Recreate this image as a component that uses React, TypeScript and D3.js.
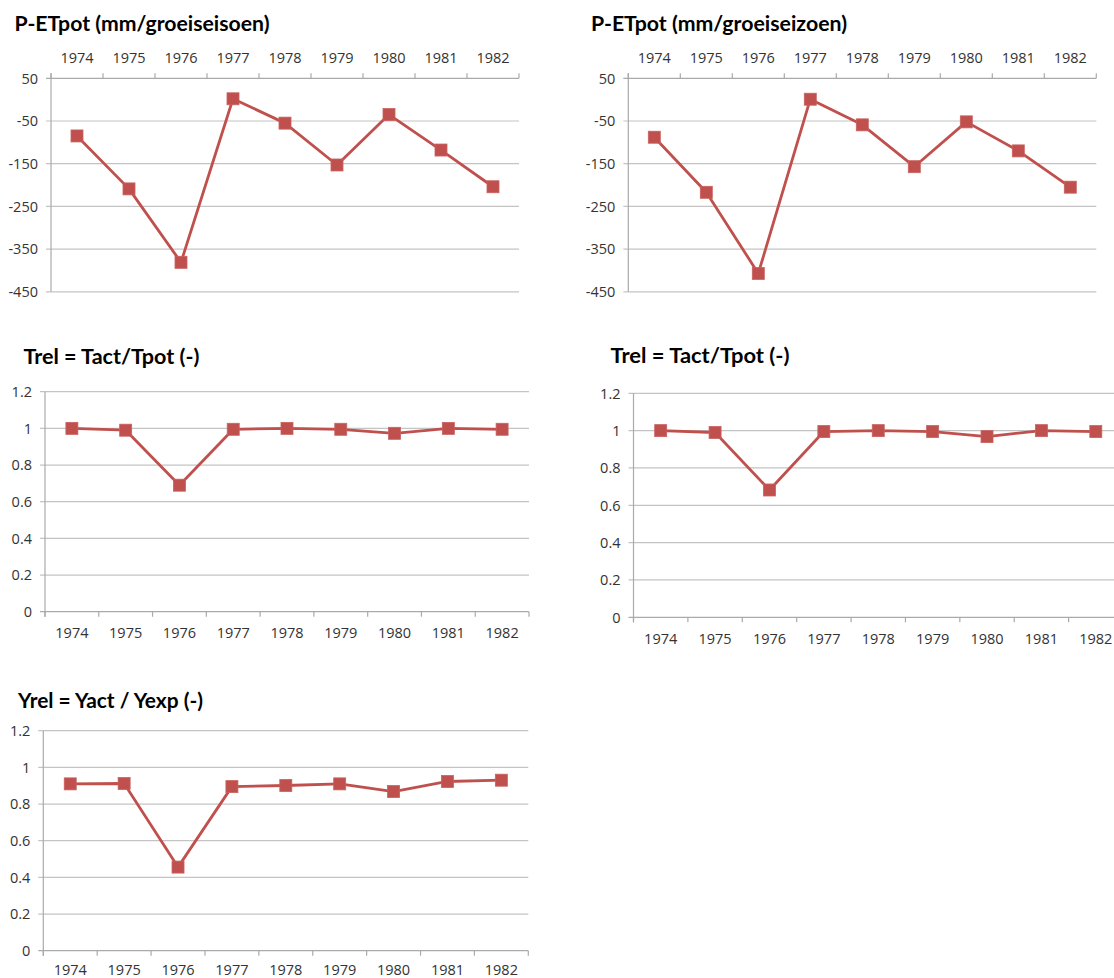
import React, { useEffect } from "react";
import * as d3 from "d3";

// categories and series
const YEARS = ["1974", "1975", "1976", "1977", "1978", "1979", "1980", "1981", "1982"];

const P_ET_LEFT = [-85, -209, -381, 2, -55, -153, -35, -118, -204];
const P_ET_RIGHT = [-88, -217, -407, 1, -59, -157, -52, -120, -205];
const TREL_LEFT = [1.0, 0.99, 0.69, 0.995, 1.0, 0.995, 0.973, 1.0, 0.995];
const TREL_RIGHT = [1.0, 0.99, 0.682, 0.995, 1.0, 0.995, 0.968, 1.0, 0.995];
const YREL = [0.91, 0.912, 0.456, 0.895, 0.901, 0.91, 0.868, 0.923, 0.93];

const P_ET_TICKS = [50, -50, -150, -250, -350, -450];
const REL_TICKS = [0, 0.2, 0.4, 0.6, 0.8, 1, 1.2];

const TITLES = [
  "P-ETpot (mm/groeiseisoen)",
  "P-ETpot (mm/groeiseizoen)",
  "Trel = Tact/Tpot (-)",
  "Trel = Tact/Tpot (-)",
  "Yrel = Yact / Yexp (-)",
];

const RED = "#c0504d";
const GRID = "#c4c4c4";
const AXIS = "#aaaaaa";
const TEXT = "#333333";
const TITLE_FONT = "Lato, 'Open Sans', sans-serif";
const TICK_FONT = "'Open Sans', Lato, sans-serif";

interface PanelProps {
  title: string;
  titleX: number;
  titleY: number;
  titleW: number;
  values: number[];
  ticks: number[];
  left: number;
  right: number;
  top: number;
  bottom: number;
  axisOnTop: boolean;
  labelOffset: number;
}

const Panel: React.FC<PanelProps> = ({
  title,
  titleX,
  titleY,
  titleW,
  values,
  ticks,
  left,
  right,
  top,
  bottom,
  axisOnTop,
  labelOffset,
}) => {
  const x = d3.scaleBand<string>().domain(YEARS).range([left, right]).padding(0);
  const y = d3
    .scaleLinear()
    .domain([d3.min(ticks) as number, d3.max(ticks) as number])
    .range([bottom, top]);

  const cx = (d: string) => (x(d) ?? 0) + x.bandwidth() / 2;
  const line = d3
    .line<number>()
    .x((_, i) => cx(YEARS[i]))
    .y((v) => y(v));

  const axisY = axisOnTop ? top : bottom;
  const tickDir = axisOnTop ? -5 : 5;
  const boundaries = YEARS.map((d) => x(d) ?? 0).concat([right]);
  const ms = 12;

  return (
    <g>
      <text
        x={titleX}
        y={titleY}
        fontFamily={TITLE_FONT}
        fontWeight="bold"
        fontSize={20}
        fill="#000"
        textLength={titleW}
        lengthAdjust="spacingAndGlyphs"
      >
        {title}
      </text>

      {/* gridlines + value labels */}
      {ticks.map((t) => (
        <g key={t}>
          <line
            x1={left - 5}
            x2={right}
            y1={y(t)}
            y2={y(t)}
            stroke={t === (axisOnTop ? ticks[0] : 0) ? AXIS : GRID}
            strokeWidth={1.2}
          />
          <text
            x={left - 13}
            y={y(t)}
            dy="0.36em"
            textAnchor="end"
            fontFamily={TICK_FONT}
            fontSize={14.5}
            fill={TEXT}
          >
            {String(t)}
          </text>
        </g>
      ))}

      {/* value axis */}
      <line
        x1={left}
        x2={left}
        y1={axisOnTop ? top - 5 : top}
        y2={axisOnTop ? bottom : bottom + 5}
        stroke={AXIS}
        strokeWidth={1.2}
      />

      {/* category axis */}
      {boundaries.map((bx, i) => (
        <line
          key={i}
          x1={bx}
          x2={bx}
          y1={axisY}
          y2={axisY + tickDir}
          stroke={AXIS}
          strokeWidth={1.2}
        />
      ))}
      {YEARS.map((d) => (
        <text
          key={d}
          x={cx(d)}
          y={axisOnTop ? axisY - labelOffset : axisY + labelOffset}
          dy="0.36em"
          textAnchor="middle"
          fontFamily={TICK_FONT}
          fontSize={14.5}
          fill={TEXT}
        >
          {d}
        </text>
      ))}

      <path
        d={line(values) ?? ""}
        fill="none"
        stroke={RED}
        strokeWidth={2.8}
        strokeLinejoin="round"
      />
      {values.map((v, i) => (
        <rect
          key={i}
          x={cx(YEARS[i]) - ms / 2}
          y={y(v) - ms / 2}
          width={ms}
          height={ms}
          fill={RED}
          stroke="#c9625f"
          strokeWidth={0.8}
        />
      ))}
    </g>
  );
};

const App: React.FC = () => {
  useEffect(() => {
    document.body.style.margin = "0";
  }, []);

  return (
    <svg
      width={1114}
      height={978}
      style={{ display: "block", background: "#fff", overflow: "hidden" }}
    >
      <Panel
        title={TITLES[0]}
        titleX={14.5}
        titleY={31}
        titleW={255}
        values={P_ET_LEFT}
        ticks={P_ET_TICKS}
        left={51}
        right={519}
        top={78.3}
        bottom={291.8}
        axisOnTop
        labelOffset={20.5}
      />
      <Panel
        title={TITLES[1]}
        titleX={591}
        titleY={31}
        titleW={256}
        values={P_ET_RIGHT}
        ticks={P_ET_TICKS}
        left={628.3}
        right={1096.3}
        top={78.3}
        bottom={291.8}
        axisOnTop
        labelOffset={20.5}
      />
      <Panel
        title={TITLES[2]}
        titleX={23.4}
        titleY={364}
        titleW={176}
        values={TREL_LEFT}
        ticks={REL_TICKS}
        left={45}
        right={529}
        top={391.7}
        bottom={611.7}
        axisOnTop={false}
        labelOffset={21.5}
      />
      <Panel
        title={TITLES[3]}
        titleX={610.5}
        titleY={363.3}
        titleW={179}
        values={TREL_RIGHT}
        ticks={REL_TICKS}
        left={633.5}
        right={1123}
        top={393.3}
        bottom={617.3}
        axisOnTop={false}
        labelOffset={21}
      />
      <Panel
        title={TITLES[4]}
        titleX={18}
        titleY={708.3}
        titleW={185}
        values={YREL}
        ticks={REL_TICKS}
        left={43.3}
        right={528.3}
        top={730.7}
        bottom={950.7}
        axisOnTop={false}
        labelOffset={19.5}
      />
    </svg>
  );
};

export default App;
